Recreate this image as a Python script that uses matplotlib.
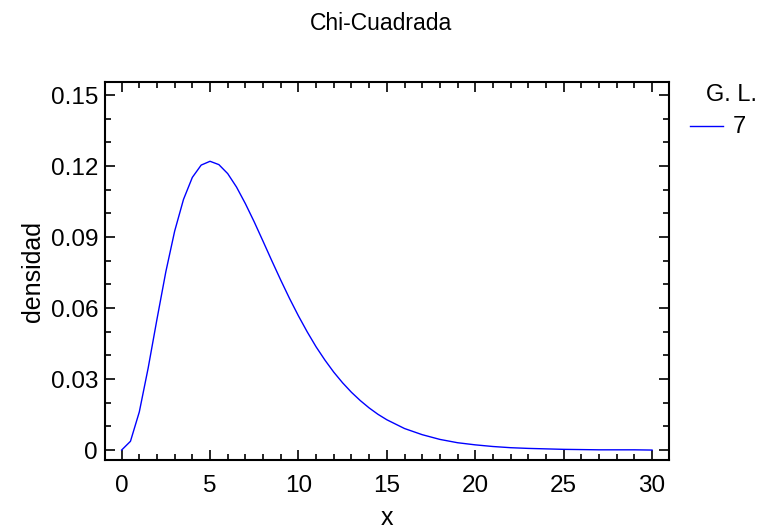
import matplotlib
matplotlib.use("Agg")
import matplotlib.pyplot as plt
from matplotlib.ticker import MultipleLocator

# Values (density curve, G. L. = 7)
x_vals = [0, 0.5, 1, 1.5, 2, 2.5, 3, 3.5, 4, 4.5, 5, 5.5, 6, 6.5, 7, 7.5, 8, 8.5,
          9, 9.5, 10, 10.5, 11, 11.5, 12, 12.5, 13, 13.5, 14, 14.5, 15, 16, 17,
          18, 19, 20, 21, 22, 23, 24, 25, 26, 27, 28, 29, 30]
densidad = [0.0, 0.0037, 0.0161, 0.0346, 0.0553, 0.0753, 0.0925, 0.1059, 0.1152,
            0.1204, 0.1220, 0.1206, 0.1168, 0.1111, 0.1041, 0.0964, 0.0882, 0.0799,
            0.0718, 0.0640, 0.0567, 0.0499, 0.0436, 0.0380, 0.0329, 0.0284, 0.0244,
            0.0209, 0.0178, 0.0151, 0.0128, 0.0091, 0.0065, 0.0045, 0.0031, 0.0022,
            0.0015, 0.0010, 0.0007, 0.0005, 0.0003, 0.0002, 0.0001, 0.0001, 0.0001, 0.0]
x_ticks = [0, 5, 10, 15, 20, 25, 30]
y_ticks = [0, 0.03, 0.06, 0.09, 0.12, 0.15]
y_tick_labels = ["0", "0.03", "0.06", "0.09", "0.12", "0.15"]
legend_title = "G. L."
series_label = "7"

plt.rcParams['font.family'] = ['Liberation Sans', 'DejaVu Sans']

W, H = 765, 532
fig = plt.figure(figsize=(W / 100, H / 100), dpi=100)
ax = fig.add_axes([105 / W, 1 - 460 / H, (669 - 105) / W, (460 - 82) / H])

line, = ax.plot(x_vals, densidad, color='#0000ff', lw=1.0, label=series_label)

ax.set_xlim(-0.94, 30.96)
ax.set_ylim(-0.0042, 0.1555)
ax.set_xticks(x_ticks)
ax.set_yticks(y_ticks)
ax.set_yticklabels(y_tick_labels)
ax.xaxis.set_minor_locator(MultipleLocator(1))
ax.yaxis.set_minor_locator(MultipleLocator(0.01))
ax.tick_params(which='both', direction='in', top=True, right=True, width=1.2,
               labelsize=17.5, colors='black')
ax.tick_params(axis='x', which='major', pad=11)
ax.tick_params(axis='y', which='major', pad=5)
ax.tick_params(which='major', length=7)
ax.tick_params(which='minor', length=4)
for s in ax.spines.values():
    s.set_linewidth(1.5)

ax.set_xlabel('x', fontsize=18, labelpad=6.5)
ax.set_ylabel('densidad', fontsize=18, labelpad=4)
fig.text(381 / W, 1 - 30 / H, 'Chi-Cuadrada', ha='center', va='baseline', fontsize=16.5)

fig.text(732 / W, 1 - 101 / H, legend_title, ha='center', va='baseline', fontsize=17)
fig.lines.append(plt.Line2D([690 / W, 723 / W], [1 - 126 / H, 1 - 126 / H],
                            transform=fig.transFigure, color='#0000ff', lw=1.0))
fig.text(733 / W, 1 - 133 / H, series_label, ha='left', va='baseline', fontsize=17)

fig.savefig('out.png', dpi=100)
